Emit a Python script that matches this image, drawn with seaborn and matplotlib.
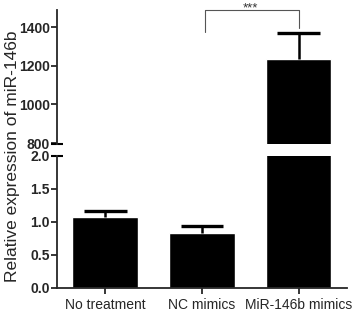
import numpy as np
import pandas as pd
import seaborn as sns
import matplotlib.pyplot as plt

groups = ["No treatment", "NC mimics", "MiR-146b mimics"]
means = [1.08, 0.83, 1235.0]
sems = [0.09, 0.11, 135.0]

top_ticks = [800, 1000, 1200, 1400]
bottom_ticks = [0.0, 0.5, 1.0, 1.5, 2.0]


def make_plot(filename):
    sns.set_style("ticks")
    plt.rcParams["font.family"] = ["Liberation Sans", "DejaVu Sans"]
    data = pd.DataFrame({"group": groups, "value": means})

    fig = plt.figure(figsize=(3.58, 3.13), dpi=100)
    ax_top = fig.add_axes([0.159, 0.540, 0.81, 0.428])
    ax_bot = fig.add_axes([0.159, 0.080, 0.81, 0.422])

    x = np.arange(len(groups))
    tops = np.array(means) + np.array(sems)
    for ax in (ax_top, ax_bot):
        sns.barplot(data=data, x="group", y="value", color="black",
                    width=0.68, errorbar=None, saturation=1, ax=ax)
        # upper error bars only
        ax.vlines(x, means, tops, color="black", lw=1.8, zorder=3)
        ax.hlines(tops, x - 0.22, x + 0.22, color="black", lw=2.4, zorder=3)
        ax.set_xlim(-0.5, 2.5)
        ax.set_xlabel("")
        ax.set_ylabel("")
        ax.spines["top"].set_visible(False)
        ax.spines["right"].set_visible(False)
        ax.spines["left"].set_linewidth(1.3)
        ax.spines["bottom"].set_linewidth(1.3)
        ax.tick_params(axis="y", length=4, width=1.3, labelsize=10, pad=1)

    ax_top.set_ylim(795, 1490)
    ax_top.set_yticks(top_ticks)
    ax_top.set_yticklabels([str(t) for t in top_ticks], fontweight="bold")
    ax_top.spines["bottom"].set_visible(False)
    ax_top.set_xticks([])

    ax_bot.set_ylim(0, 2.0)
    ax_bot.set_yticks(bottom_ticks)
    ax_bot.set_yticklabels(["%.1f" % t for t in bottom_ticks], fontweight="bold")
    ax_bot.set_xticks(range(len(groups)))
    ax_bot.set_xticklabels(groups, fontsize=10)
    ax_bot.tick_params(axis="x", length=4, width=1.3, pad=3)

    # break marks on the y axis
    ax_top.plot([0], [0], marker="_", ms=8, mew=1.5, color="black",
                transform=ax_top.transAxes, clip_on=False)
    ax_bot.plot([0], [1], marker="_", ms=8, mew=1.5, color="black",
                transform=ax_bot.transAxes, clip_on=False)

    # significance bracket
    ax_top.plot([1.03, 1.03, 2.0, 2.0], [1378, 1488, 1488, 1395],
                color="#555555", lw=0.8, clip_on=False)
    ax_top.text(1.5, 1497, "***", ha="center", va="center", fontsize=9.5,
                color="#333333", clip_on=False)

    fig.text(0.035, 0.5, "Relative expression of miR-146b", rotation=90,
             ha="center", va="center", fontsize=12.5)

    plt.savefig(filename, dpi=100)


make_plot("out.png")
